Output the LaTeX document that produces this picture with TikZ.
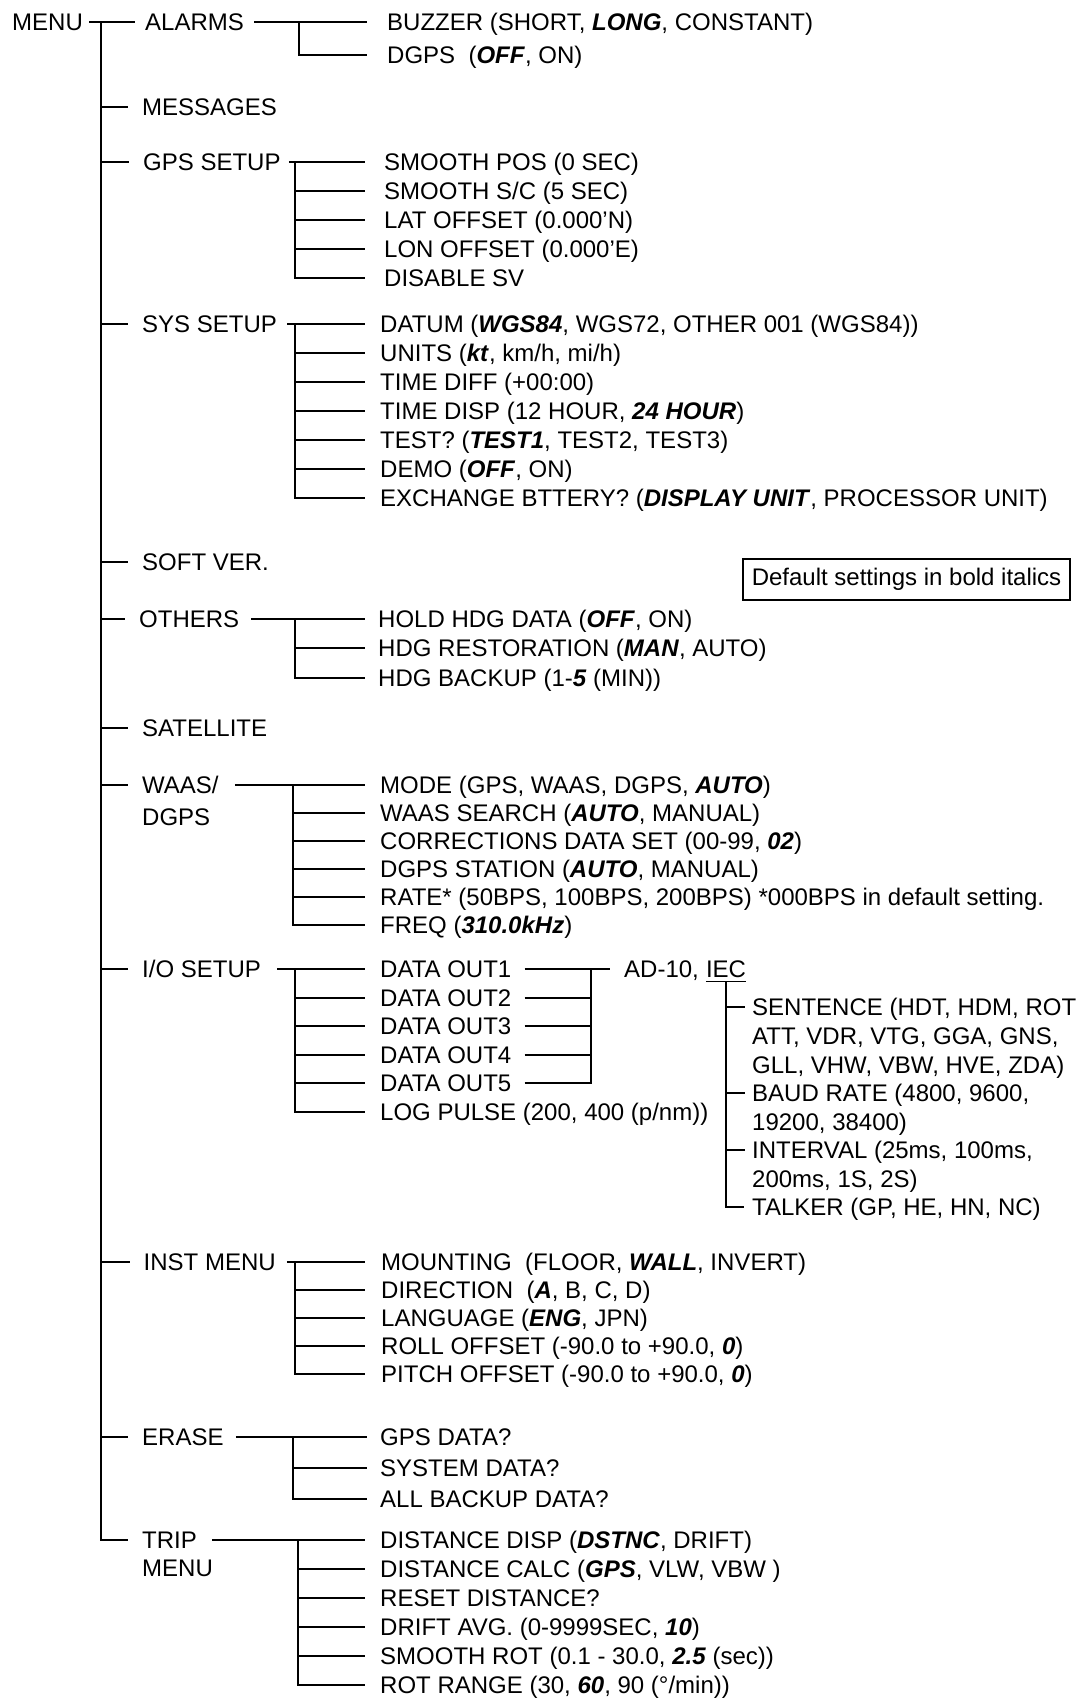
\documentclass[tikz,border=0pt]{standalone}
\usepackage{fontspec}
\setmainfont{Liberation Sans}
\newcommand\dflt[1]{\textbf{\textit{#1}}}
\begin{document}
\begin{tikzpicture}[x=1pt,y=-1pt,
  lbl/.style={anchor=west, inner sep=0pt, text height=17.2pt, text depth=0pt, font=\fontsize{24}{28}\selectfont},
  conn/.style={line width=1.9pt}]
\useasboundingbox (0,0) rectangle (1087,1699);
% ---- level 0 / 1
\node[lbl] (menu) at (12,22) {MENU};
\node[lbl] (alarms) at (145,22) {ALARMS};
\node[lbl] (messages) at (142,107) {MESSAGES};
\node[lbl] (gps) at (143,162) {GPS SETUP};
\node[lbl] (sys) at (142,324) {SYS SETUP};
\node[lbl] (soft) at (142,562) {SOFT VER.};
\node[lbl] (others) at (139,619) {OTHERS};
\node[lbl] (sat) at (142,728) {SATELLITE};
\node[lbl] (waas) at (142,785) {WAAS/};
\node[lbl] (waasb) at (142,817) {DGPS};
\node[lbl] (io) at (142,969) {I/O SETUP};
\node[lbl] (inst) at (143.5,1262) {INST MENU};
\node[lbl] (erase) at (142,1437) {ERASE};
\node[lbl] (trip) at (142,1540) {TRIP};
\node[lbl] (tripb) at (142,1568) {MENU};
% ---- note box
\node[draw, line width=1.6pt, minimum width=327pt, minimum height=41pt, inner sep=0pt,
  font=\fontsize{24}{28}\selectfont] (note) at (906.5,579.5) {Default settings in bold italics};
% ---- alarms
\node[lbl] (al1) at (387,22) {BUZZER (SHORT, \dflt{LONG}, CONSTANT)};
\node[lbl] (al2) at (387,55) {DGPS~~(\dflt{OFF}, ON)};
% ---- gps setup
\node[lbl] (gp1) at (384,162) {SMOOTH POS (0 SEC)};
\node[lbl] (gp2) at (384,191) {SMOOTH S/C (5 SEC)};
\node[lbl] (gp3) at (384,220) {LAT OFFSET (0.000’N)};
\node[lbl] (gp4) at (384,249) {LON OFFSET (0.000’E)};
\node[lbl] (gp5) at (384,278) {DISABLE SV};
% ---- sys setup
\node[lbl] (sy1) at (380,324) {DATUM (\dflt{WGS84}, WGS72, OTHER 001 (WGS84))};
\node[lbl] (sy2) at (380,353) {UNITS (\dflt{kt}, km/h, mi/h)};
\node[lbl] (sy3) at (380,382) {TIME DIFF (+00:00)};
\node[lbl] (sy4) at (380,411) {TIME DISP (12 HOUR, \dflt{24 HOUR})};
\node[lbl] (sy5) at (380,440) {TEST? (\dflt{TEST1}, TEST2, TEST3)};
\node[lbl] (sy6) at (380,469) {DEMO (\dflt{OFF}, ON)};
\node[lbl] (sy7) at (380,498) {EXCHANGE BTTERY? (\dflt{DISPLAY UNIT}, PROCESSOR UNIT)};
% ---- others
\node[lbl] (ot1) at (378,619) {HOLD HDG DATA (\dflt{OFF}, ON)};
\node[lbl] (ot2) at (378,648) {HDG RESTORATION (\dflt{MAN}, AUTO)};
\node[lbl] (ot3) at (378,678) {HDG BACKUP (1-\dflt{5} (MIN))};
% ---- waas
\node[lbl] (wa1) at (380,785) {MODE (GPS, WAAS, DGPS, \dflt{AUTO})};
\node[lbl] (wa2) at (380,813) {WAAS SEARCH (\dflt{AUTO}, MANUAL)};
\node[lbl] (wa3) at (380,841) {CORRECTIONS DATA SET (00-99, \dflt{02})};
\node[lbl] (wa4) at (380,869) {DGPS STATION (\dflt{AUTO}, MANUAL)};
\node[lbl] (wa5) at (380,897) {RATE* (50BPS, 100BPS, 200BPS) *000BPS in default setting.};
\node[lbl] (wa6) at (380,925) {FREQ (\dflt{310.0kHz})};
% ---- i/o
\node[lbl] (io1) at (380,969) {DATA OUT1};
\node[lbl] (io2) at (380,998) {DATA OUT2};
\node[lbl] (io3) at (380,1026) {DATA OUT3};
\node[lbl] (io4) at (380,1055) {DATA OUT4};
\node[lbl] (io5) at (380,1083) {DATA OUT5};
\node[lbl] (io6) at (380,1112) {LOG PULSE (200, 400 (p/nm))};
\node[lbl] (ad) at (624,969) {AD-10,};
\node[lbl] (iec) at ([xshift=6.7pt]ad.east) {IEC};
\node[lbl] (se1) at (752,1007) {SENTENCE (HDT, HDM, ROT};
\node[lbl] (se2) at (752,1036) {ATT, VDR, VTG, GGA, GNS,};
\node[lbl] (se3) at (752,1065) {GLL, VHW, VBW, HVE, ZDA)};
\node[lbl] (ba1) at (752,1093) {BAUD RATE (4800, 9600,};
\node[lbl] (ba2) at (752,1122) {19200, 38400)};
\node[lbl] (iv1) at (752,1150) {INTERVAL (25ms, 100ms,};
\node[lbl] (iv2) at (752,1179) {200ms, 1S, 2S)};
\node[lbl] (ta) at (752,1207) {TALKER (GP, HE, HN, NC)};
% ---- inst menu
\node[lbl] (in1) at (381,1262) {MOUNTING~~(FLOOR, \dflt{WALL}, INVERT)};
\node[lbl] (in2) at (381,1290) {DIRECTION~~(\dflt{A}, B, C, D)};
\node[lbl] (in3) at (381,1318) {LANGUAGE (\dflt{ENG}, JPN)};
\node[lbl] (in4) at (381,1346) {ROLL OFFSET (-90.0 to +90.0, \dflt{0})};
\node[lbl] (in5) at (381,1374) {PITCH OFFSET (-90.0 to +90.0, \dflt{0})};
% ---- erase
\node[lbl] (er1) at (380,1437) {GPS DATA?};
\node[lbl] (er2) at (380,1468) {SYSTEM DATA?};
\node[lbl] (er3) at (380,1499) {ALL BACKUP DATA?};
% ---- trip
\node[lbl] (tr1) at (380,1540) {DISTANCE DISP (\dflt{DSTNC}, DRIFT)};
\node[lbl] (tr2) at (380,1569) {DISTANCE CALC (\dflt{GPS}, VLW, VBW )};
\node[lbl] (tr3) at (380,1598) {RESET DISTANCE?};
\node[lbl] (tr4) at (380,1627) {DRIFT AVG. (0-9999SEC, \dflt{10})};
\node[lbl] (tr5) at (380,1656) {SMOOTH ROT (0.1 - 30.0, \dflt{2.5} (sec))};
\node[lbl] (tr6) at (380,1685) {ROT RANGE (30, \dflt{60}, 90 (°/min))};

% ================= connectors
\begin{scope}[conn]
% main trunk
\coordinate (mv) at (101,22);
\draw ([xshift=6pt]menu.east) -- ([xshift=-10pt]alarms.west);
\draw (mv) |- ([xshift=-14pt]trip.west);
\foreach \n in {messages,gps,sys,soft,others,sat,waas,io,inst,erase}
  \draw (mv |- \n.west) -- ([xshift=-14pt]\n.west);
% alarms
\coordinate (ab) at (299,22);
\draw ([xshift=10pt]alarms.east) -- ([xshift=-20pt]al1.west);
\draw (ab) |- ([xshift=-20pt]al2.west);
% gps
\coordinate (gb) at (295,162);
\draw ([xshift=8pt]gps.east) -- ([xshift=-19pt]gp1.west);
\draw (gb) |- ([xshift=-19pt]gp5.west);
\foreach \n in {gp2,gp3,gp4} \draw (gb |- \n.west) -- ([xshift=-19pt]\n.west);
% sys
\coordinate (sb) at (295,324);
\draw ([xshift=10pt]sys.east) -- ([xshift=-15pt]sy1.west);
\draw (sb) |- ([xshift=-15pt]sy7.west);
\foreach \n in {sy2,sy3,sy4,sy5,sy6} \draw (sb |- \n.west) -- ([xshift=-15pt]\n.west);
% others
\coordinate (ob) at (295,619);
\draw ([xshift=12pt]others.east) -- ([xshift=-13pt]ot1.west);
\draw (ob) |- ([xshift=-13pt]ot3.west);
\draw (ob |- ot2.west) -- ([xshift=-13pt]ot2.west);
% waas
\coordinate (wb) at (293,785);
\draw ([xshift=16pt]waas.east) -- ([xshift=-15pt]wa1.west);
\draw (wb) |- ([xshift=-15pt]wa6.west);
\foreach \n in {wa2,wa3,wa4,wa5} \draw (wb |- \n.west) -- ([xshift=-15pt]\n.west);
% i/o
\coordinate (ib) at (295,969);
\draw ([xshift=16pt]io.east) -- ([xshift=-15pt]io1.west);
\draw (ib) |- ([xshift=-15pt]io6.west);
\foreach \n in {io2,io3,io4,io5} \draw (ib |- \n.west) -- ([xshift=-15pt]\n.west);
% data out -> AD-10
\coordinate (dv) at (591,969);
\draw ([xshift=13pt]io1.east) -- ([xshift=-14pt]ad.west);
\draw ([xshift=13pt]io5.east) -| (dv);
\foreach \n in {io2,io3,io4} \draw ([xshift=13pt]\n.east) -- (dv |- \n.east);
% IEC
\draw[line width=1.3pt] ([yshift=-3.6pt]iec.south west) -- ([yshift=-3.6pt]iec.south east);
\coordinate (iv) at ([yshift=-3.6pt]iec.south);
\draw (iv) |- ([xshift=-8pt]ta.west);
\foreach \n in {se1,ba1,iv1} \draw (iv |- \n.west) -- ([xshift=-7pt]\n.west);
% inst
\coordinate (nb) at (295,1262);
\draw ([xshift=11pt]inst.east) -- ([xshift=-16pt]in1.west);
\draw (nb) |- ([xshift=-16pt]in5.west);
\foreach \n in {in2,in3,in4} \draw (nb |- \n.west) -- ([xshift=-16pt]\n.west);
% erase
\coordinate (eb) at (293,1437);
\draw ([xshift=12pt]erase.east) -- ([xshift=-13pt]er1.west);
\draw (eb) |- ([xshift=-13pt]er3.west);
\draw (eb |- er2.west) -- ([xshift=-13pt]er2.west);
% trip
\coordinate (tb) at (298,1540);
\draw ([xshift=15pt]trip.east) -- ([xshift=-15pt]tr1.west);
\draw (tb) |- ([xshift=-15pt]tr6.west);
\foreach \n in {tr2,tr3,tr4,tr5} \draw (tb |- \n.west) -- ([xshift=-15pt]\n.west);
\end{scope}
\end{tikzpicture}
\end{document}
